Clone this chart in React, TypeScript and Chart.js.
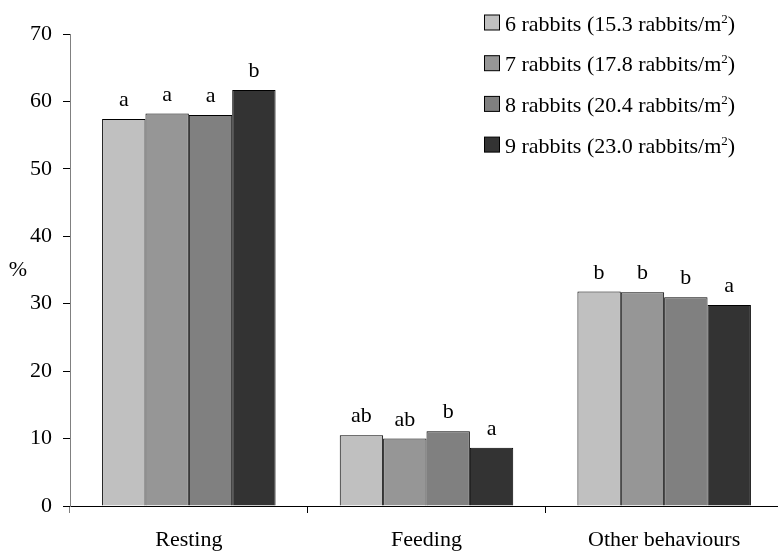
import React, { useEffect, useRef } from "react";
import { Chart, registerables } from "chart.js";

Chart.register(...registerables);

const FONT = "'Liberation Serif', 'Times New Roman', serif";

const categories = ["Resting", "Feeding", "Other behaviours"];
const seriesLabels = [
  "6 rabbits (15.3 rabbits/m²)",
  "7 rabbits (17.8 rabbits/m²)",
  "8 rabbits (20.4 rabbits/m²)",
  "9 rabbits (23.0 rabbits/m²)",
];
const rabbits6 = [57.4, 10.5, 31.8];
const rabbits7 = [58.2, 10.0, 31.7];
const rabbits8 = [58.0, 11.1, 30.95];
const rabbits9 = [61.7, 8.65, 29.8];
const letters6 = ["a", "ab", "b"];
const letters7 = ["a", "ab", "b"];
const letters8 = ["a", "b", "b"];
const letters9 = ["b", "a", "a"];
const yMin = 0;
const yMax = 70;
const yStep = 10;
const yAxisTitle = "%";

const seriesValues = [rabbits6, rabbits7, rabbits8, rabbits9];
const seriesLetters = [letters6, letters7, letters8, letters9];
const seriesColors = ["#C0C0C0", "#969696", "#808080", "#333333"];

function drawSupText(ctx: CanvasRenderingContext2D, text: string, x: number, baseline: number, size: number) {
  const parts = text.split("²");
  let cx = x;
  ctx.textAlign = "left";
  ctx.textBaseline = "alphabetic";
  parts.forEach((p, i) => {
    ctx.font = `${size}px ${FONT}`;
    ctx.fillText(p, cx, baseline);
    cx += ctx.measureText(p).width;
    if (i < parts.length - 1) {
      const s = Math.round(size * 0.6);
      ctx.font = `${s}px ${FONT}`;
      ctx.fillText("2", cx, baseline - size * 0.36);
      cx += ctx.measureText("2").width;
    }
  });
}

const overlayPlugin = {
  id: "overlay",
  afterDatasetsDraw(chart: any) {
    const ctx: CanvasRenderingContext2D = chart.ctx;
    ctx.save();
    ctx.fillStyle = "#000";
    // letters above bars
    ctx.font = `22px ${FONT}`;
    ctx.textAlign = "center";
    ctx.textBaseline = "alphabetic";
    chart.data.datasets.forEach((ds: any, i: number) => {
      const meta = chart.getDatasetMeta(i);
      meta.data.forEach((el: any, j: number) => {
        const t = seriesLetters[i][j];
        ctx.fillText(t, el.x, el.y - 13);
      });
    });
    // y axis title
    ctx.font = `22px ${FONT}`;
    ctx.textAlign = "center";
    ctx.textBaseline = "middle";
    const area = chart.chartArea;
    ctx.fillText(yAxisTitle, 18, (area.top + area.bottom) / 2);
    // legend
    chart.data.datasets.forEach((ds: any, i: number) => {
      const cy = 22.5 + 40.7 * i;
      ctx.fillStyle = ds.backgroundColor;
      ctx.fillRect(484.5, cy - 7.5, 15, 15);
      ctx.strokeStyle = "#000";
      ctx.lineWidth = 1;
      ctx.strokeRect(484.5, cy - 7.5, 15, 15);
      ctx.fillStyle = "#000";
      drawSupText(ctx, ds.label, 505, cy + 8, 22);
    });
    ctx.restore();
  },
};

export default function App() {
  const ref = useRef<HTMLCanvasElement | null>(null);
  useEffect(() => {
    if (!ref.current) return;
    const chart = new Chart(ref.current, {
      type: "bar",
      data: {
        labels: categories,
        datasets: seriesValues.map((vals, i) => ({
          label: seriesLabels[i],
          data: vals,
          backgroundColor: seriesColors[i],
          borderColor: "#000",
          borderWidth: 1,
          categoryPercentage: 0.73,
          barPercentage: 1.0,
        })),
      },
      options: {
        animation: false,
        responsive: false,
        devicePixelRatio: 1,
        layout: { padding: { top: 34, right: 7, left: 0, bottom: 0 } },
        plugins: {
          legend: { display: false },
          tooltip: { enabled: false },
        },
        scales: {
          x: {
            afterFit: (scale: any) => {
              scale.height = 47;
            },
            grid: {
              offset: true,
              drawOnChartArea: false,
              drawTicks: true,
              tickLength: 7,
              color: (c: any) => (c.index === 0 ? "#808080" : "#000"),
            },
            border: { color: "#000", width: 1 },
            ticks: {
              color: "#000",
              font: { family: FONT, size: 22 },
              padding: 14,
              maxRotation: 0,
            },
          },
          y: {
            min: yMin,
            max: yMax,
            afterFit: (scale: any) => {
              scale.width = 70;
            },
            grid: {
              drawOnChartArea: false,
              drawTicks: true,
              tickLength: 7,
              color: "#000",
            },
            border: { color: "#808080", width: 1 },
            ticks: {
              stepSize: yStep,
              color: "#000",
              font: { family: FONT, size: 22 },
              padding: 11,
            },
          },
        },
      },
      plugins: [overlayPlugin],
    });
    return () => chart.destroy();
  }, []);
  return (
    <div
      style={{
        position: "absolute",
        left: 0,
        top: 0,
        width: 778,
        height: 553,
        overflow: "hidden",
        background: "#fff",
      }}
    >
      <canvas
        ref={ref}
        width={790}
        height={553}
        style={{ width: 790, height: 553, display: "block" }}
      />
    </div>
  );
}
